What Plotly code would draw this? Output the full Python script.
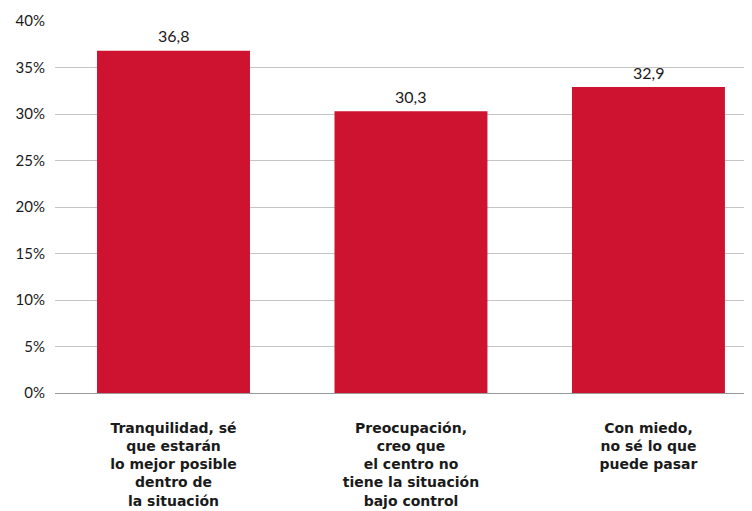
import plotly.graph_objects as go

categories = [
    "Tranquilidad, sé<br>que estarán<br>lo mejor posible<br>dentro de<br>la situación",
    "Preocupación,<br>creo que<br>el centro no<br>tiene la situación<br>bajo control",
    "Con miedo,<br>no sé lo que<br>puede pasar",
]
values = [36.8, 30.3, 32.9]
tick_vals = [0, 5, 10, 15, 20, 25, 30, 35, 40]
tick_text = ["0%", "5%", "10%", "15%", "20%", "25%", "30%", "35%", "40%"]

x_pos = list(range(len(values)))

fig = go.Figure(go.Bar(
    x=x_pos,
    y=values,
    width=0.644,
    marker=dict(color="#CD1330", line=dict(width=0)),
    hoverinfo="skip",
))

# value labels above bars (decimal comma)
for xi, v in zip(x_pos, values):
    fig.add_annotation(
        x=xi, y=v, xref="x", yref="y",
        text=f"{v:.1f}".replace(".", ","), showarrow=False,
        xanchor="center", yanchor="middle", yshift=15,
        font=dict(family="Lato", size=16, color="#1a1a1a"),
    )

fig.update_layout(
    width=752, height=511,
    margin=dict(l=47, r=8, t=13, b=126),
    paper_bgcolor="white", plot_bgcolor="white",
    showlegend=False,
    font=dict(family="Lato", color="#1a1a1a"),
)
fig.update_xaxes(
    range=[-0.499, 2.436], automargin=False,
    tickmode="array", tickvals=x_pos, ticktext=[f"<b>{c}</b>" for c in categories],
    tickfont=dict(family="DejaVu Sans", size=14, color="#1a1a1a"),
    ticks="outside", ticklen=22, tickcolor="rgba(0,0,0,0)",
    showgrid=False, zeroline=False, showline=False,
)
fig.update_yaxes(
    range=[0, 40], automargin=False, ticklabeloverflow="allow",
    tickmode="array", tickvals=tick_vals, ticktext=tick_text,
    tickfont=dict(family="Lato", size=15, color="#1a1a1a"),
    showgrid=True, gridcolor="#c4c4c4", gridwidth=1,
    zeroline=True, zerolinecolor="#9a9a9a", zerolinewidth=1,
    ticks="outside", ticklen=6, tickcolor="rgba(0,0,0,0)",
)

fig.write_html("out.html")
